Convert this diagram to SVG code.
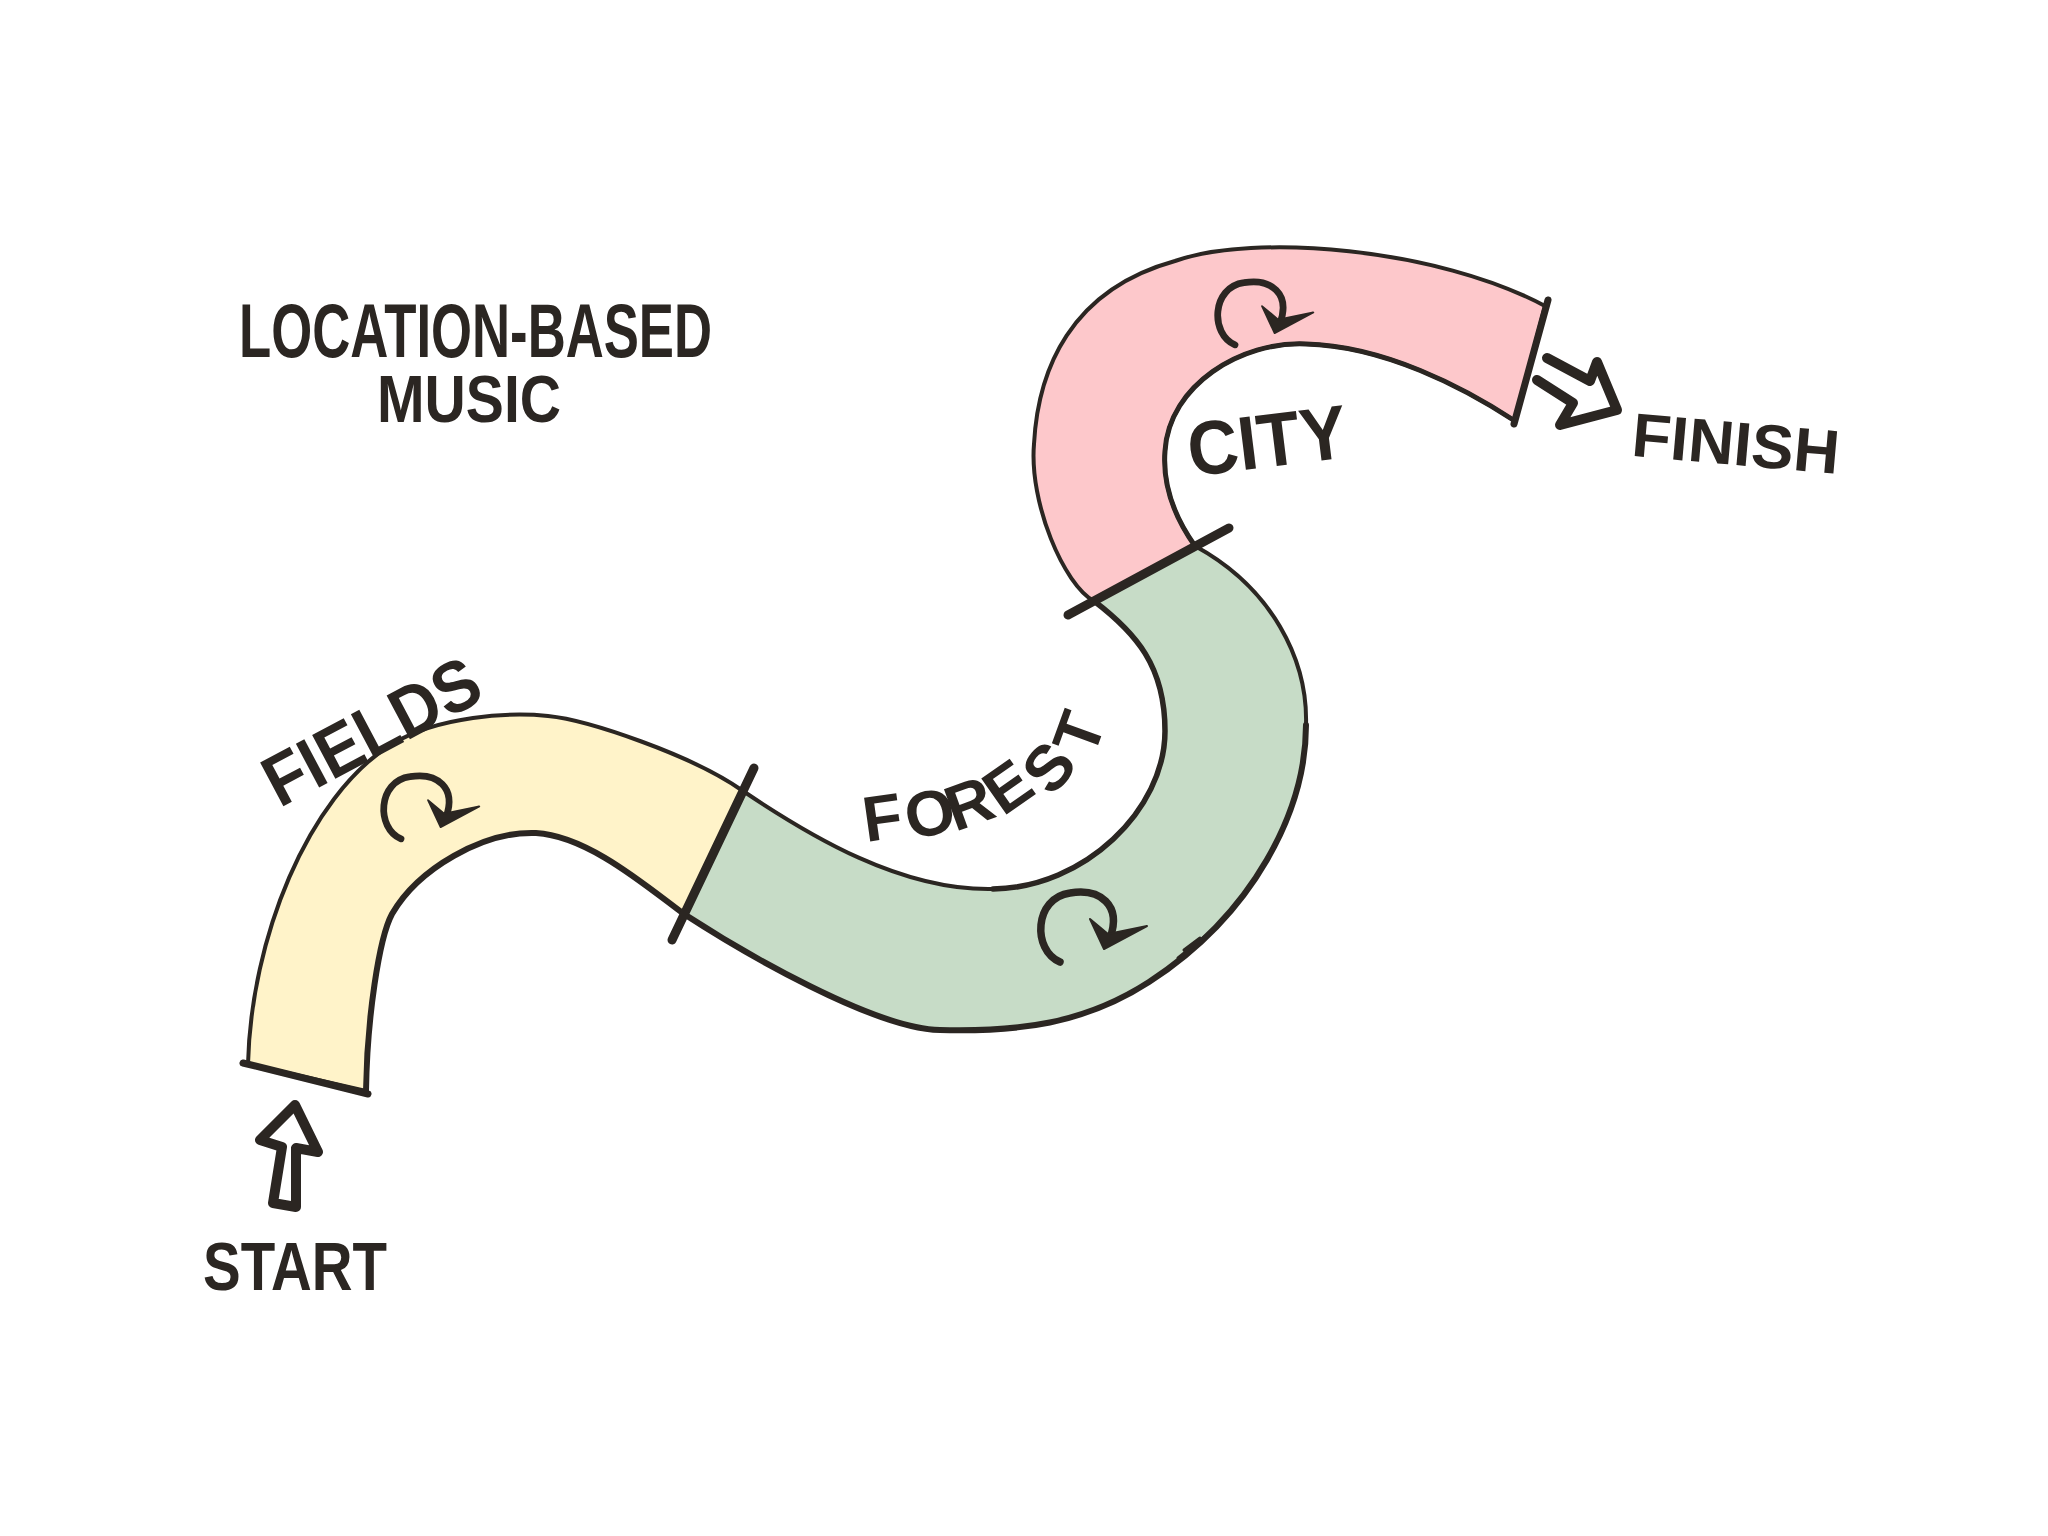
<svg xmlns="http://www.w3.org/2000/svg" xmlns:xlink="http://www.w3.org/1999/xlink" width="2048" height="1536" viewBox="0 0 2048 1536">
<style>
.ink{fill:none;stroke:#2b2622;stroke-linecap:round;stroke-linejoin:round}
.band{stroke:#2b2622;stroke-width:4;stroke-linejoin:round}
.lbl{font-family:"Liberation Sans",Arial,sans-serif;font-weight:bold;fill:#2b2622}
</style>
<defs>
<g id="loop">
<path class="ink" stroke-width="7.5" d="M 0,32 C -28,20 -26,-32 10,-37 C 40,-42 62,-25 50,8"/>
<path fill="#2b2622" stroke="#2b2622" stroke-width="2" stroke-linejoin="round" d="M 30,-11 L 44,19 L 87,-4 L 48,4 Z"/>
</g>
</defs>
<rect width="2048" height="1536" fill="#ffffff"/>

<g id="fields">
<path class="band" fill="#fff3c9" d="M 248,1064 C 251,940 307,797 392,744 C 439,716 509,712 548,716 C 588,720 692,755 743,791 L 684,914 C 646,886 588,836 536,833 C 483,831 418,869 392,914 C 379,938 367,1019 366,1091 Z"/>
<use xlink:href="#loop" href="#loop" transform="translate(401,810) scale(0.9)"/>
<text class="lbl" transform="translate(372,732) rotate(-28)" x="0" y="24" font-size="72" text-anchor="middle" textLength="235" lengthAdjust="spacingAndGlyphs">FIELDS</text>
</g>

<g id="forest">
<path class="band" fill="#c7dcc7" d="M 743,791 C 810,836 901,891 993,889 C 1084,888 1165,810 1165,731 C 1165,666 1136,633 1094,601 L 1195,546 C 1272,588 1308,660 1306,725 C 1306,810 1254,914 1149,982 C 1084,1024 1019,1032 940,1030 C 875,1029 744,953 684,914 Z"/>
<use xlink:href="#loop" href="#loop" transform="translate(1060,930)"/>
<text class="lbl" font-size="64" x="866 910 955 1003 1052 1093" y="842 840 832 817 798 759" rotate="-8 -12 -20 -35 -50 -70">FOREST</text>
</g>

<g id="city">
<path class="band" fill="#fdc8cb" d="M 1094,601 C 1064,585 1029,503 1034,444 C 1038,370 1070,290 1175,261 C 1254,233 1437,248 1545,306 L 1515,421 C 1463,387 1384,346 1306,344 C 1241,341 1169,385 1165,451 C 1162,490 1178,522 1195,546 Z"/>
<use xlink:href="#loop" href="#loop" transform="translate(1235,316) scale(0.9)"/>
<text class="lbl" transform="rotate(-7 1267 440)" x="1267" y="467" font-size="76" text-anchor="middle" textLength="160" lengthAdjust="spacingAndGlyphs">CITY</text>
</g>

<g id="connectors">
<path class="ink" stroke-width="6" d="M 366,1091 C 367,1019 379,938 392,914 C 418,869 483,831 536,833 C 588,836 646,886 684,914 C 744,953 875,1029 940,1030 C 1019,1032 1084,1024 1149,982 C 1254,914 1306,810 1306,725"/>
<path class="ink" stroke-width="5.5" d="M 1094,601 C 1136,633 1165,666 1165,731 C 1165,810 1084,888 993,889"/>
<path class="ink" stroke-width="5" d="M 1195,546 C 1178,522 1162,490 1165,451 C 1169,385 1241,341 1306,344 C 1384,346 1463,387 1515,421"/>
<path class="ink" stroke-width="3" d="M 1178,958 L 1208,934 M 1184,950 L 1200,938"/>
<path class="ink" stroke-width="7" d="M 243,1063 L 368,1094"/>
<path class="ink" stroke-width="7" d="M 1548,300 L 1514,424"/>
<path class="ink" stroke-width="9" d="M 754,768 L 672,940"/>
<path class="ink" stroke-width="9" d="M 1068,615 L 1229,528"/>
<path class="ink" stroke-width="10" d="M 273,1203 L 282,1147 L 260,1140 L 295,1105 L 318,1152 L 296,1148 L 296,1207 Z"/>
<path class="ink" stroke-width="10" d="M 1547,358 L 1590,381 L 1597,362 L 1617,410 L 1560,425 L 1573,403 L 1537,380"/>
</g>

<g id="title">
<text class="lbl" x="239" y="357" font-size="76" textLength="473" lengthAdjust="spacingAndGlyphs">LOCATION-BASED</text>
<text class="lbl" x="377" y="422" font-size="66" textLength="184" lengthAdjust="spacingAndGlyphs">MUSIC</text>
</g>
<g id="start">
<text class="lbl" x="203" y="1290" font-size="68" textLength="184" lengthAdjust="spacingAndGlyphs">START</text>
</g>
<g id="finish">
<text class="lbl" transform="rotate(5 1736 443)" x="1736" y="465" font-size="62" text-anchor="middle" textLength="208" lengthAdjust="spacingAndGlyphs">FINISH</text>
</g>
</svg>
